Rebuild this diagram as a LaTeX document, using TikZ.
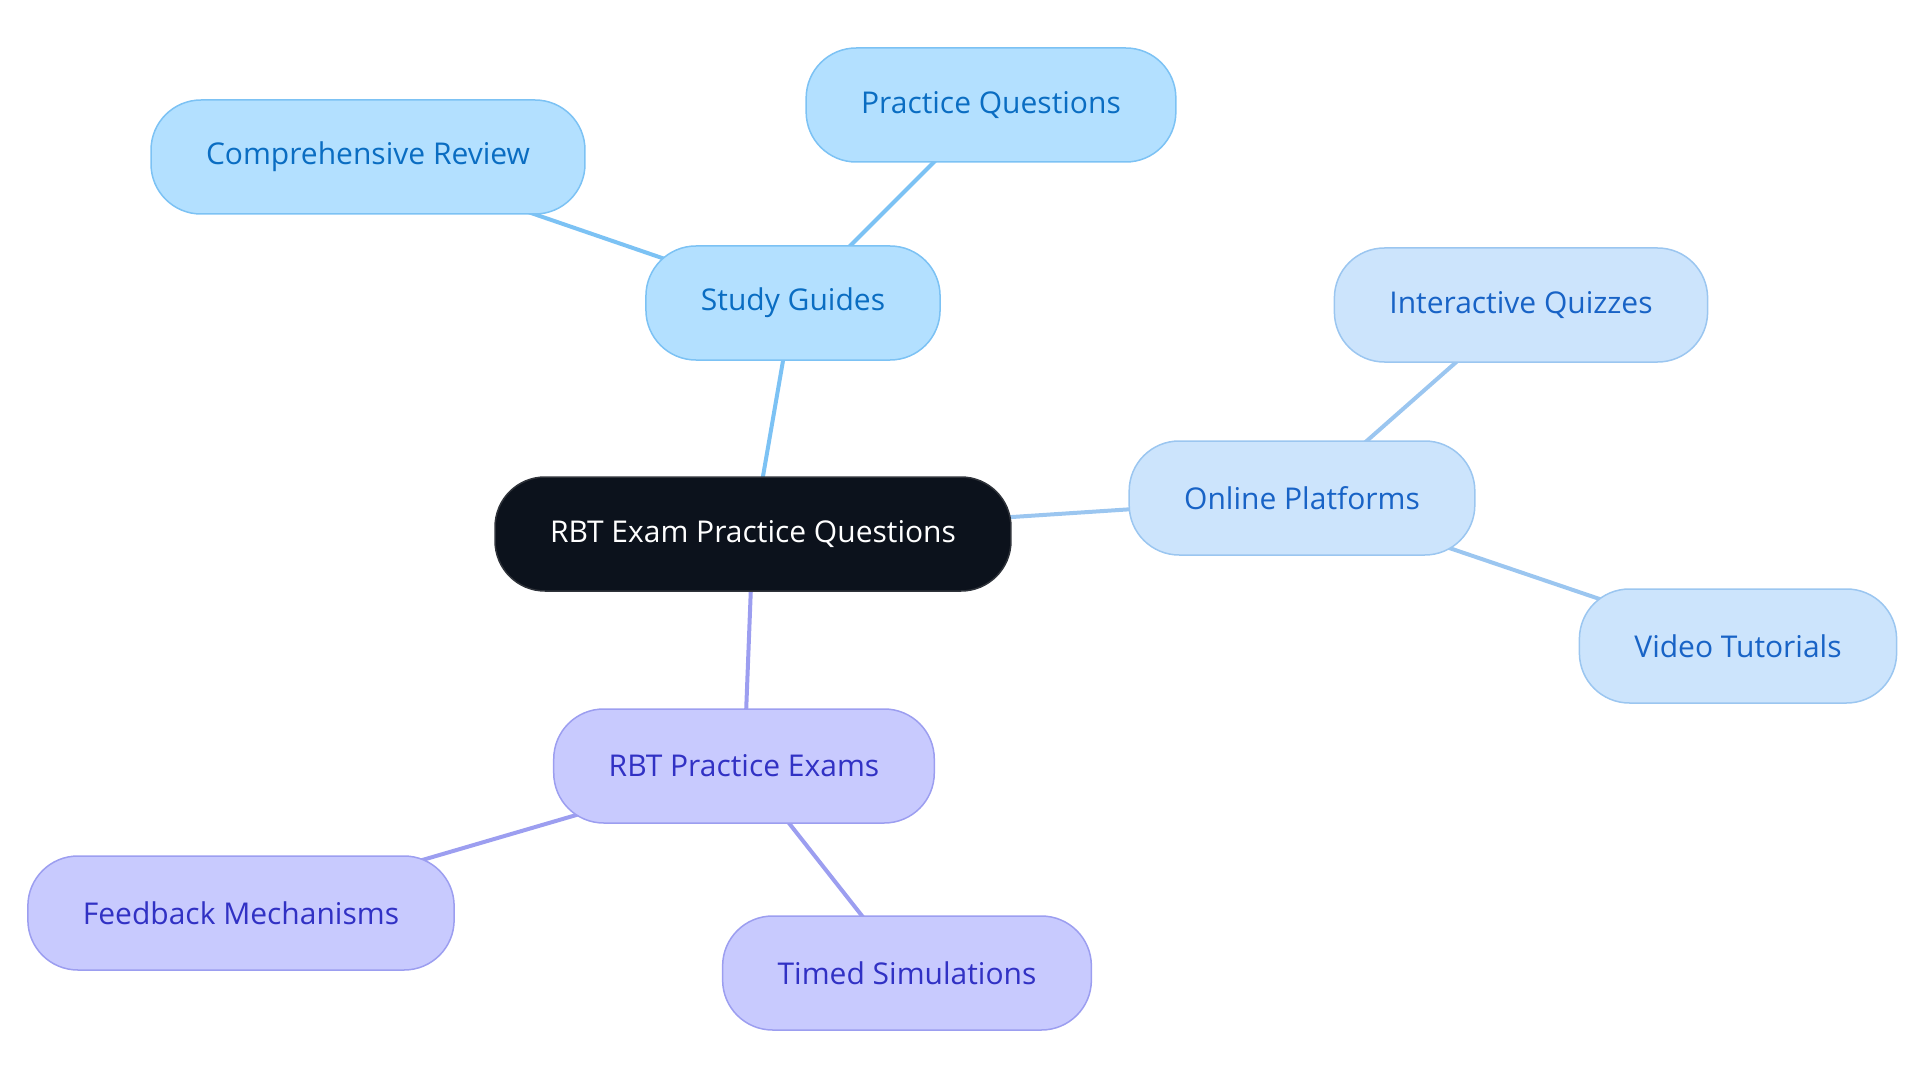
\documentclass[tikz,border=0pt]{standalone}
\usepackage{fontspec}
\setmainfont{Open Sans}
\usepackage{xcolor}
\usetikzlibrary{positioning, backgrounds}
\definecolor{rootfill}{HTML}{0C121C}
\definecolor{guidefill}{HTML}{B3E0FF}
\definecolor{guideline}{HTML}{7CC2F4}
\definecolor{guidetext}{HTML}{0A6DC2}
\definecolor{platfill}{HTML}{CCE4FC}
\definecolor{platline}{HTML}{9BC6F0}
\definecolor{plattext}{HTML}{1863C6}
\definecolor{examfill}{HTML}{C8CAFE}
\definecolor{examline}{HTML}{9C9EF0}
\definecolor{examtext}{HTML}{3131C4}
\tikzset{
    topic/.style = {rectangle, rounded corners = 50pt, minimum height = 114pt, inner xsep = 55pt, font = \fontsize{30}{36}\selectfont, line width = 1.5pt},
    root/.style = {topic, fill = rootfill, draw = rootfill!70!gray, text = white},
    guide/.style = {topic, fill = guidefill, draw = guideline, text = guidetext},
    platform/.style = {topic, fill = platfill, draw = platline, text = plattext},
    exam/.style = {topic, fill = examfill, draw = examline, text = examtext},
    link/.style = {line width = 4pt}
}

\begin{document}
\begin{tikzpicture}[x = 1pt, y = -1pt]
        \useasboundingbox (0,0) rectangle (1920,1083);
        % centre and first ring
        \node [root] (rbt) at (753,534) {RBT Exam Practice Questions};
        \node [guide] (guides) at (793,303) {Study Guides};
        \node [platform] (online) at (1302,498) {Online Platforms};
        \node [exam] (exams) at (744,766) {RBT Practice Exams};
        % leaves
        \node [guide] (practice) at (991,105) {Practice Questions};
        \node [guide] (review) at (368,157) {Comprehensive Review};
        \node [platform] (quizzes) at (1521,305) {Interactive Quizzes};
        \node [platform] (videos) at (1738,646) {Video Tutorials};
        \node [exam] (feedback) at (241,913) {Feedback Mechanisms};
        \node [exam] (timed) at (907,973) {Timed Simulations};
        % links, centre to centre behind the nodes
        \begin{scope}[on background layer]
            \draw [link, guideline] (rbt.center) -- (guides.center);
            \draw [link, guideline] (guides.center) -- (practice.center);
            \draw [link, guideline] (guides.center) -- (review.center);
            \draw [link, platline] (rbt.center) -- (online.center);
            \draw [link, platline] (online.center) -- (quizzes.center);
            \draw [link, platline] (online.center) -- (videos.center);
            \draw [link, examline] (rbt.center) -- (exams.center);
            \draw [link, examline] (exams.center) -- (feedback.center);
            \draw [link, examline] (exams.center) -- (timed.center);
        \end{scope}
    \end{tikzpicture}
\end{document}
